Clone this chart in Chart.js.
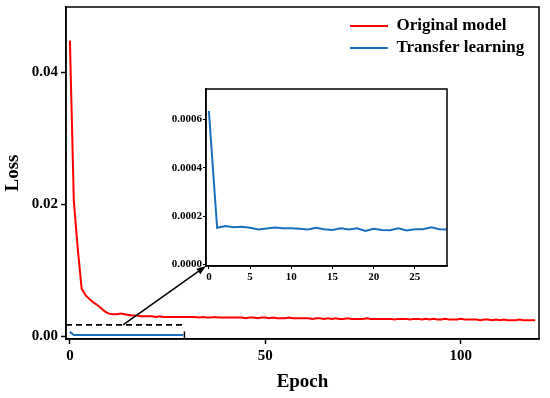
<!DOCTYPE html>
<html>
<head>
<meta charset="utf-8">
<script src="https://cdn.jsdelivr.net/npm/chart.js@4.4.0/dist/chart.umd.min.js"></script>
<style>
  html, body { margin: 0; padding: 0; background: #fff; }
  #wrap { position: relative; width: 550px; height: 398px; }
  #mainChart { position: absolute; left: 0; top: 0; }
  #insetChart { position: absolute; left: 145px; top: 80px; }
</style>
</head>
<body>
<div id="wrap">
  <canvas id="mainChart" width="550" height="398"></canvas>
  <canvas id="insetChart" width="315" height="210"></canvas>
</div>
<script>
// loss per epoch
const originalLoss = [
  0.0448, 0.0205, 0.0133, 0.0072, 0.0062, 0.0056, 0.0051, 0.0047, 0.0042, 0.0037,
  0.0034, 0.0033, 0.0033, 0.0034, 0.0033, 0.0032, 0.0031, 0.0031, 0.0030, 0.0030,
  0.0030, 0.0030, 0.0029, 0.0030, 0.0029, 0.0029, 0.0029, 0.0029, 0.0029, 0.0029,
  0.0029, 0.0029, 0.0029, 0.0028, 0.0029, 0.0028, 0.0028, 0.0029, 0.0028, 0.0028,
  0.0028, 0.0028, 0.0028, 0.0028, 0.0028, 0.0027, 0.0028, 0.0028, 0.0027, 0.0028,
  0.0028, 0.0027, 0.0028, 0.0027, 0.0027, 0.0027, 0.0028, 0.0027, 0.0027, 0.0027,
  0.0027, 0.0027, 0.0026, 0.0027, 0.0027, 0.0026, 0.0027, 0.0026, 0.0027, 0.0026,
  0.0026, 0.0027, 0.0026, 0.0026, 0.0026, 0.0026, 0.0027, 0.0026, 0.0026, 0.0026,
  0.0026, 0.0026, 0.0026, 0.0025, 0.0026, 0.0026, 0.0026, 0.0025, 0.0026, 0.0026,
  0.0025, 0.0026, 0.0025, 0.0026, 0.0025, 0.0025, 0.0026, 0.0025, 0.0025, 0.0025,
  0.0026, 0.0025, 0.0025, 0.0025, 0.0025, 0.0024, 0.0025, 0.0025, 0.0024, 0.0025,
  0.0024, 0.0025, 0.0024, 0.0024, 0.0024, 0.0025, 0.0024, 0.0024, 0.0024, 0.0024
];
const transferLoss = [
  0.000634, 0.000152, 0.000159, 0.000154, 0.000156, 0.000152, 0.000145, 0.000149, 0.000153, 0.000150,
  0.000150, 0.000148, 0.000145, 0.000152, 0.000146, 0.000143, 0.000150, 0.000145, 0.000150, 0.000139,
  0.000148, 0.000143, 0.000142, 0.000150, 0.000141, 0.000146, 0.000146, 0.000154, 0.000146, 0.000145
];
const seriesNames = ['Original model', 'Transfer learning'];
const seriesColors = ['#ff0000', '#1c6fbf'];

const mainXTicks = [0, 50, 100];
const mainYTicks = [0, 0.02, 0.04];
const insetXTicks = [0, 5, 10, 15, 20, 25];
const insetYTicks = [0, 0.0002, 0.0004, 0.0006];

// zoomed region marker (data units of the main chart)
const zoomBoxTop = 0.0017;
const zoomBoxRight = 29.3;
const arrowFromEpoch = 13.6;

const toPoints = arr => arr.map((v, i) => ({ x: i, y: v }));

Chart.defaults.font.family = "'Liberation Serif', 'Times New Roman', serif";
Chart.defaults.font.weight = 'bold';
Chart.defaults.color = '#000';

const frame = {
  id: 'frame',
  beforeDraw(chart) {
    const { ctx, chartArea: a } = chart;
    ctx.save();
    ctx.fillStyle = '#fff';
    ctx.fillRect(a.left, a.top, a.right - a.left, a.bottom - a.top);
    ctx.restore();
  },
  afterDraw(chart) {
    const { ctx, chartArea: a } = chart;
    ctx.save();
    ctx.strokeStyle = '#000';
    ctx.lineWidth = 1.5;
    ctx.strokeRect(a.left, a.top, a.right - a.left, a.bottom - a.top);
    ctx.restore();
  }
};

function fixedTicks(values) {
  return scale => { scale.ticks = values.map(v => ({ value: v })); };
}
// fixed axis box sizes, no extra label padding
const fixHeight = h => s => { s.height = h; s.paddingLeft = 0; s.paddingRight = 0; };
const fixWidth = w => s => { s.width = w; s.paddingTop = 0; s.paddingBottom = 0; };

// inset first so the arrow can aim at its corner
const insetChart = new Chart(document.getElementById('insetChart'), {
  type: 'line',
  data: {
    datasets: [{
      data: toPoints(transferLoss),
      borderColor: seriesColors[1],
      borderWidth: 2,
      pointRadius: 0,
      tension: 0
    }]
  },
  options: {
    responsive: false,
    animation: false,
    layout: { padding: { top: 9, right: 13, left: 0, bottom: 0 } },
    plugins: { legend: { display: false }, tooltip: { enabled: false } },
    scales: {
      x: {
        type: 'linear', min: -0.35, max: 28.9,
        afterBuildTicks: fixedTicks(insetXTicks),
        afterFit: fixHeight(24),
        grid: { drawOnChartArea: false, tickLength: 3, color: '#000', tickWidth: 1 },
        border: { color: '#000', width: 1.5 },
        ticks: { font: { size: 11, weight: 'bold' }, padding: 2, maxRotation: 0 }
      },
      y: {
        min: -0.000006, max: 0.000725,
        afterBuildTicks: fixedTicks(insetYTicks),
        afterFit: fixWidth(61),
        grid: { drawOnChartArea: false, tickLength: 3, color: '#000', tickWidth: 1 },
        border: { color: '#000', width: 1.5 },
        ticks: { font: { size: 11, weight: 'bold' }, padding: 1, callback: v => v.toFixed(4) }
      }
    }
  },
  plugins: [frame]
});

const zoomMarker = {
  id: 'zoomMarker',
  afterDatasetsDraw(chart) {
    const { ctx, chartArea: a, scales: { x, y } } = chart;
    const top = y.getPixelForValue(zoomBoxTop);
    const right = x.getPixelForValue(zoomBoxRight);
    ctx.save();
    ctx.strokeStyle = '#000';
    ctx.lineWidth = 1.7;
    ctx.setLineDash([6, 4]);
    ctx.beginPath();
    ctx.moveTo(a.left, top);
    ctx.lineTo(right, top);
    ctx.stroke();
    ctx.setLineDash([]);
    ctx.lineWidth = 1.5;
    ctx.beginPath();
    ctx.moveTo(right, y.getPixelForValue(0.0007));
    ctx.lineTo(right, a.bottom);
    ctx.stroke();

    // arrow to the inset's lower-left corner
    const ic = insetChart.canvas;
    const tx = ic.offsetLeft + insetChart.chartArea.left;
    const ty = ic.offsetTop + insetChart.chartArea.bottom;
    const sx = x.getPixelForValue(arrowFromEpoch);
    const ang = Math.atan2(ty - top, tx - sx);
    const head = 10;
    ctx.beginPath();
    ctx.moveTo(sx, top);
    ctx.lineTo(tx - Math.cos(ang) * head * 0.8, ty - Math.sin(ang) * head * 0.8);
    ctx.stroke();
    ctx.fillStyle = '#000';
    ctx.beginPath();
    ctx.moveTo(tx, ty);
    ctx.lineTo(tx - head * Math.cos(ang - 0.35), ty - head * Math.sin(ang - 0.35));
    ctx.lineTo(tx - head * Math.cos(ang + 0.35), ty - head * Math.sin(ang + 0.35));
    ctx.closePath();
    ctx.fill();
    ctx.restore();
  }
};

// move the built-in legend to the upper right of the plot
const legendSpot = {
  id: 'legendSpot',
  afterLayout(chart) {
    const lg = chart.legend;
    lg.left = chart.chartArea.right - 194;
    lg.top = chart.chartArea.top + 5.5;
  }
};

new Chart(document.getElementById('mainChart'), {
  type: 'line',
  data: {
    datasets: [{
      label: seriesNames[0],
      data: toPoints(originalLoss),
      borderColor: seriesColors[0],
      backgroundColor: seriesColors[0],
      borderWidth: 2,
      pointRadius: 0,
      tension: 0
    }, {
      label: seriesNames[1],
      data: toPoints(transferLoss),
      borderColor: seriesColors[1],
      backgroundColor: seriesColors[1],
      borderWidth: 2,
      pointRadius: 0,
      tension: 0
    }]
  },
  options: {
    responsive: false,
    animation: false,
    layout: { padding: { top: 7, right: 11, left: 0, bottom: 0 } },
    plugins: {
      tooltip: { enabled: false },
      legend: {
        position: 'chartArea',
        align: 'start',
        labels: {
          usePointStyle: true,
          pointStyle: 'line',
          pointStyleWidth: 38,
          padding: 5,
          color: '#000',
          font: { size: 17, weight: 'bold' }
        }
      }
    },
    scales: {
      x: {
        type: 'linear', min: -1, max: 120,
        afterBuildTicks: fixedTicks(mainXTicks),
        afterFit: fixHeight(59),
        grid: { drawOnChartArea: false, tickLength: 5, color: '#000', tickWidth: 1.5 },
        border: { color: '#000', width: 1.5 },
        ticks: { font: { size: 15, weight: 'bold' }, padding: 3, maxRotation: 0 },
        title: { display: true, text: 'Epoch', font: { size: 19, weight: 'bold' }, padding: { top: 0, bottom: 5 } }
      },
      y: {
        min: -0.00045, max: 0.0499,
        afterBuildTicks: fixedTicks(mainYTicks),
        afterFit: fixWidth(66),
        grid: { drawOnChartArea: false, tickLength: 5, color: '#000', tickWidth: 1.5 },
        border: { color: '#000', width: 1.5 },
        ticks: { font: { size: 15, weight: 'bold' }, padding: 3, callback: v => v.toFixed(2) },
        title: { display: true, text: 'Loss', font: { size: 19, weight: 'bold' }, padding: { top: 2, bottom: 0 } }
      }
    }
  },
  plugins: [frame, zoomMarker, legendSpot]
});
</script>
</body>
</html>
